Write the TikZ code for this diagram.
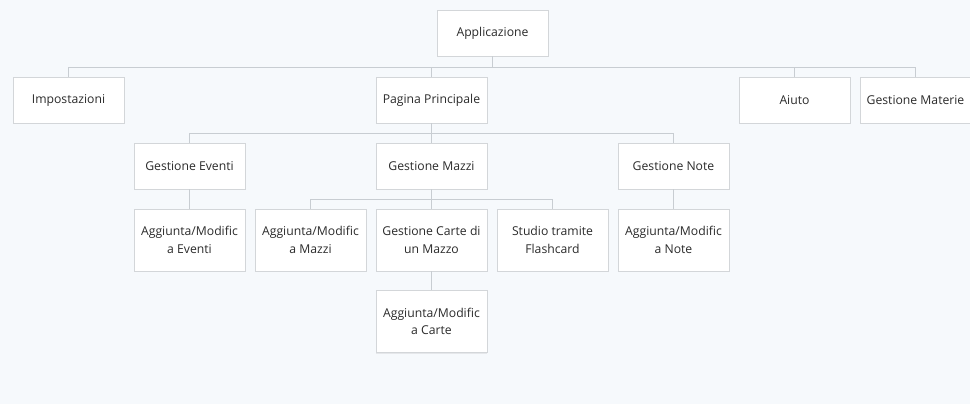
\documentclass[tikz,border=0pt]{standalone}
\usepackage{fontspec}
\setmainfont{Open Sans}
\usepackage{tikz}
\usetikzlibrary{shadows}
\definecolor{bgcol}{HTML}{F6F9FC}
\definecolor{boxline}{HTML}{D3D6D9}
\definecolor{linkcol}{HTML}{C8CDD2}
\definecolor{textcol}{HTML}{2B2B2B}

\begin{document}
\begin{tikzpicture}[x=1pt, y=-1pt,
    box/.style={draw=boxline, fill=white, line width=0.8pt, minimum width=111pt,
        minimum height=46pt, align=center, text=textcol, inner sep=2pt,
        font=\fontsize{12.2}{17.5}\selectfont,
        drop shadow={shadow xshift=0pt, shadow yshift=-1.2pt, opacity=0.14}},
    tall/.style={box, minimum height=62pt},
    link/.style={draw=linkcol, line width=0.8pt}]
    \fill [bgcol] (0, 0) rectangle (970, 404);
    \useasboundingbox (0, 0) rectangle (970, 404);
    \node [box] (app) at (492.5, 33) {Applicazione};
    \node [box] (imp) at (68.5, 100) {Impostazioni};
    \node [box] (pag) at (431.5, 100) {Pagina Principale};
    \node [box] (aiuto) at (794.5, 100) {Aiuto};
    \node [box] (mat) at (915.5, 100) {Gestione Materie};
    \node [box] (ev) at (189.5, 166) {Gestione Eventi};
    \node [box] (maz) at (431.5, 166) {Gestione Mazzi};
    \node [box] (note) at (673.5, 166) {Gestione Note};
    \node [tall] (aev) at (189.5, 240) {Aggiunta/Modific\\a Eventi};
    \node [tall] (amaz) at (310.5, 240) {Aggiunta/Modific\\a Mazzi};
    \node [tall] (carte) at (431.5, 240) {Gestione Carte di\\un Mazzo};
    \node [tall] (studio) at (552.5, 240) {Studio tramite\\Flashcard};
    \node [tall] (anote) at (673.5, 240) {Aggiunta/Modific\\a Note};
    \node [tall] (acarte) at (431.5, 321.5) {Aggiunta/Modific\\a Carte};
    \draw [link] (app.south) -- ++(0, 11) -| (imp.north);
    \draw [link] (app.south) -- ++(0, 11) -| (pag.north);
    \draw [link] (app.south) -- ++(0, 11) -| (aiuto.north);
    \draw [link] (app.south) -- ++(0, 11) -| (mat.north);
    \draw [link] (pag.south) -- ++(0, 10) -| (ev.north);
    \draw [link] (pag.south) -- ++(0, 10) -| (maz.north);
    \draw [link] (pag.south) -- ++(0, 10) -| (note.north);
    \draw [link] (ev) -- (aev);
    \draw [link] (maz.south) -- ++(0, 10) -| (amaz.north);
    \draw [link] (maz.south) -- ++(0, 10) -| (carte.north);
    \draw [link] (maz.south) -- ++(0, 10) -| (studio.north);
    \draw [link] (note) -- (anote);
    \draw [link] (carte) -- (acarte);
    \end{tikzpicture}
\end{document}
